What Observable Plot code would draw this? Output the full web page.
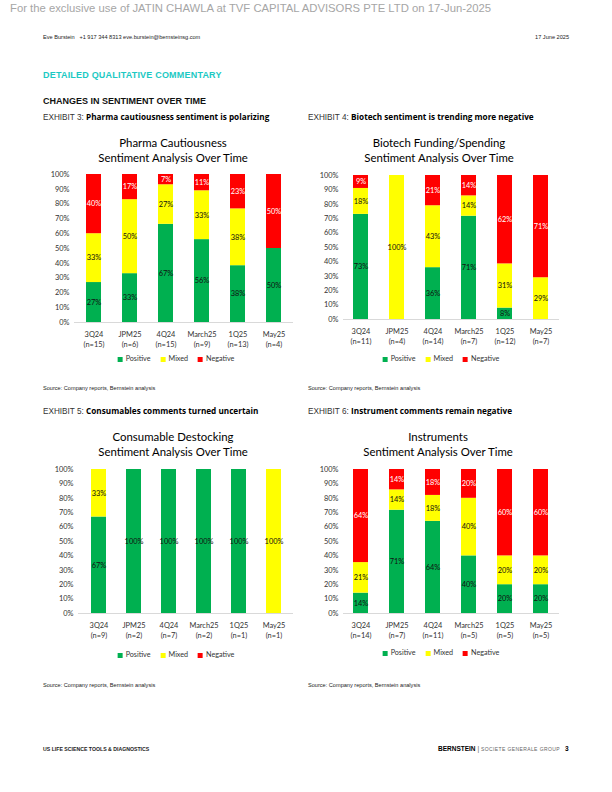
<!DOCTYPE html>
<html>
<head>
<meta charset="utf-8">
<script src="https://cdn.jsdelivr.net/npm/d3@7"></script>
<script src="https://cdn.jsdelivr.net/npm/@observablehq/plot@0.6"></script>
<style>
  html, body { margin: 0; padding: 0; background: #fff; }
  #page { position: relative; width: 612px; height: 792px; overflow: hidden; font-family: "Liberation Sans", Arial, sans-serif; color: #000; }
  .abs { position: absolute; white-space: nowrap; }
  .banner { left: 10px; top: 2px; font-size: 11.3px; color: #a6a6a6; }
  .hdr { font-size: 5.6px; color: #222; font-family: "Liberation Sans Narrow", "Liberation Sans", sans-serif; }
  .sect { font-family: "Liberation Sans Narrow", "Liberation Sans", sans-serif; font-weight: bold; }
  .exh { font-size: 8.2px; font-weight: normal; color: #333; font-family: "Liberation Sans Narrow", "Liberation Sans", sans-serif; }
  .exh b { font-family: "Open Sans", "Liberation Sans", sans-serif; font-weight: 700; font-size: 8.2px; color: #000; }
  .title { font-family: Lato, "Open Sans", sans-serif; font-size: 11.4px; font-weight: 400; text-align: center; line-height: 15px; color: #000; transform: translateX(-50%); }
  .legend { font-family: Lato, sans-serif; font-size: 7.2px; color: #333; display: flex; gap: 10px; transform: translateX(-50%); align-items: center; }
  .legend span.sw { display: inline-block; width: 5px; height: 5px; margin-right: 3px; vertical-align: middle; }
  .src { font-size: 5.6px; color: #222; font-family: "Liberation Sans Narrow", "Liberation Sans", sans-serif; }
  .chart { position: absolute; }
</style>
</head>
<body>
<div id="page">
  <div class="abs banner">For the exclusive use of JATIN CHAWLA at TVF CAPITAL ADVISORS PTE LTD on 17-Jun-2025</div>
  <div class="abs hdr" style="left:43px; top:34px;">Eve Burstein &nbsp;&nbsp;+1 917 344 8313 eve.burstein@bernsteinsg.com</div>
  <div class="abs hdr" style="right:43px; top:34px;">17 June 2025</div>
  <div class="abs sect" style="left:43px; top:70px; font-size:9px; color:#1cc9c3; letter-spacing:0.2px;">DETAILED QUALITATIVE COMMENTARY</div>
  <div class="abs sect" style="left:43px; top:96px; font-size:9px; color:#111;">CHANGES IN SENTIMENT OVER TIME</div>
  <div class="abs exh" style="left:43px; top:111px;">EXHIBIT 3: <b>Pharma cautiousness sentiment is polarizing</b></div>
  <div class="abs exh" style="left:308px; top:111px;">EXHIBIT 4: <b>Biotech sentiment is trending more negative</b></div>
  <div class="abs exh" style="left:43px; top:405px;">EXHIBIT 5: <b>Consumables comments turned uncertain</b></div>
  <div class="abs exh" style="left:308px; top:405px;">EXHIBIT 6: <b>Instrument comments remain negative</b></div>

  <div class="abs title" style="left:173px; top:135px;">Pharma Cautiousness<br>Sentiment Analysis Over Time</div>
  <div class="abs title" style="left:439px; top:135px;">Biotech Funding/Spending<br>Sentiment Analysis Over Time</div>
  <div class="abs title" style="left:173px; top:429px;">Consumable Destocking<br>Sentiment Analysis Over Time</div>
  <div class="abs title" style="left:438px; top:429px;">Instruments<br>Sentiment Analysis Over Time</div>

  <div id="c1" class="chart" style="left:40px; top:165px;"></div>
  <div id="c2" class="chart" style="left:305px; top:165px;"></div>
  <div id="c3" class="chart" style="left:40px; top:460px;"></div>
  <div id="c4" class="chart" style="left:305px; top:460px;"></div>

  <div id="l1" class="abs legend" style="left:176px; top:354px;"></div>
  <div id="l2" class="abs legend" style="left:441px; top:354px;"></div>
  <div id="l3" class="abs legend" style="left:176px; top:650px;"></div>
  <div id="l4" class="abs legend" style="left:441px; top:648px;"></div>

  <div class="abs src" style="left:43px; top:385px;">Source: Company reports, Bernstein analysis</div>
  <div class="abs src" style="left:308px; top:385px;">Source: Company reports, Bernstein analysis</div>
  <div class="abs src" style="left:43px; top:682px;">Source: Company reports, Bernstein analysis</div>
  <div class="abs src" style="left:308px; top:682px;">Source: Company reports, Bernstein analysis</div>

  <div class="abs hdr" style="left:43px; top:746px; font-weight:bold; font-size:5.2px;">US LIFE SCIENCE TOOLS &amp; DIAGNOSTICS</div>
  <div class="abs" style="left:438px; top:745px; font-size:6.5px; font-weight:bold; font-family:'Liberation Sans Narrow','Liberation Sans',sans-serif;">BERNSTEIN <span style="font-weight:normal; color:#555;">|</span> <span style="font-weight:normal; font-size:5px; color:#666; letter-spacing:0.4px;">SOCIETE GENERALE GROUP</span></div>
  <div class="abs" style="left:565px; top:745px; font-size:6.5px; font-weight:bold; font-family:'Liberation Sans Narrow','Liberation Sans',sans-serif;">3</div>
</div>
<script>
// ---- Data ----
const categories = ["3Q24", "JPM25", "4Q24", "March25", "1Q25", "May25"];
const seriesNames = ["Positive", "Mixed", "Negative"];
const seriesColors = ["#00B050", "#FFFF00", "#FF0000"];

// Exhibit 3: Pharma cautiousness
const pharmaN = [15, 6, 15, 9, 13, 4];
const pharmaPositive = [27, 33, 67, 56, 38, 50];
const pharmaMixed = [33, 50, 27, 33, 38, 0];
const pharmaNegative = [40, 17, 7, 11, 23, 50];

// Exhibit 4: Biotech funding/spending
const biotechN = [11, 4, 14, 7, 12, 7];
const biotechPositive = [73, 0, 36, 71, 8, 0];
const biotechMixed = [18, 100, 43, 14, 31, 29];
const biotechNegative = [9, 0, 21, 14, 62, 71];

// Exhibit 5: Consumable destocking
const consumN = [9, 2, 7, 2, 1, 1];
const consumPositive = [67, 100, 100, 100, 100, 0];
const consumMixed = [33, 0, 0, 0, 0, 100];
const consumNegative = [0, 0, 0, 0, 0, 0];

// Exhibit 6: Instruments
const instrN = [14, 7, 11, 5, 5, 5];
const instrPositive = [14, 71, 64, 40, 20, 20];
const instrMixed = [21, 14, 18, 40, 20, 20];
const instrNegative = [64, 14, 18, 20, 60, 60];

function makeChart(el, ns, pos, mix, neg, m) {
  const data = [];
  categories.forEach((c, i) => {
    data.push({cat: c, series: "Positive", value: pos[i]});
    data.push({cat: c, series: "Mixed", value: mix[i]});
    data.push({cat: c, series: "Negative", value: neg[i]});
  });
  const nOf = new Map(categories.map((c, i) => [c, ns[i]]));
  const stack = (o) => Plot.stackY({offset: "normalize", x: "cat", y: "value", z: "series", order: null, ...o});
  const chart = Plot.plot({
    width: m.width, height: m.height,
    marginTop: m.top, marginBottom: m.bottom, marginLeft: m.left, marginRight: m.right,
    style: {fontFamily: "Lato, sans-serif", fontSize: "7.4px", background: "transparent", color: "#333"},
    x: {domain: categories, paddingInner: 0.58, paddingOuter: 0.29, label: null},
    y: {domain: [0, 1], label: null},
    color: {domain: seriesNames, range: seriesColors},
    marks: [
      Plot.barY(data, stack({fill: "series"})),
      Plot.ruleY([0], {stroke: "#d9d9d9", strokeWidth: 1}),
      Plot.text(data, stack({text: d => (d.value > 0 && d.series !== "Negative") ? d.value + "%" : "", fill: "#111", fontSize: 7.4})),
      Plot.text(data, stack({text: d => (d.value > 0 && d.series === "Negative") ? d.value + "%" : "", fill: "#fff", fontSize: 7.4})),
      Plot.axisY({tickSize: 0, tickPadding: 5, ticks: 10, tickFormat: d3.format(".0%"), fill: "#333"}),
      Plot.axisX({tickSize: 0, tickPadding: 7, lineHeight: 1.35, tickFormat: d => `${d}\n(n=${nOf.get(d)})`, fill: "#333"})
    ]
  });
  document.getElementById(el).appendChild(chart);
}

function makeLegend(el) {
  const div = document.getElementById(el);
  seriesNames.forEach((s, i) => {
    const item = document.createElement("div");
    item.innerHTML = `<span class="sw" style="background:${seriesColors[i]}"></span>${s}`;
    div.appendChild(item);
  });
}

makeChart("c1", pharmaN, pharmaPositive, pharmaMixed, pharmaNegative, {width: 260, height: 190, top: 9, bottom: 33, left: 34, right: 7});
makeChart("c2", biotechN, biotechPositive, biotechMixed, biotechNegative, {width: 260, height: 190, top: 10, bottom: 36, left: 38, right: 6});
makeChart("c3", consumN, consumPositive, consumMixed, consumNegative, {width: 260, height: 190, top: 9, bottom: 37, left: 38, right: 7});
makeChart("c4", instrN, instrPositive, instrMixed, instrNegative, {width: 260, height: 190, top: 9, bottom: 37, left: 38, right: 6});
["l1", "l2", "l3", "l4"].forEach(makeLegend);
</script>
</body>
</html>
